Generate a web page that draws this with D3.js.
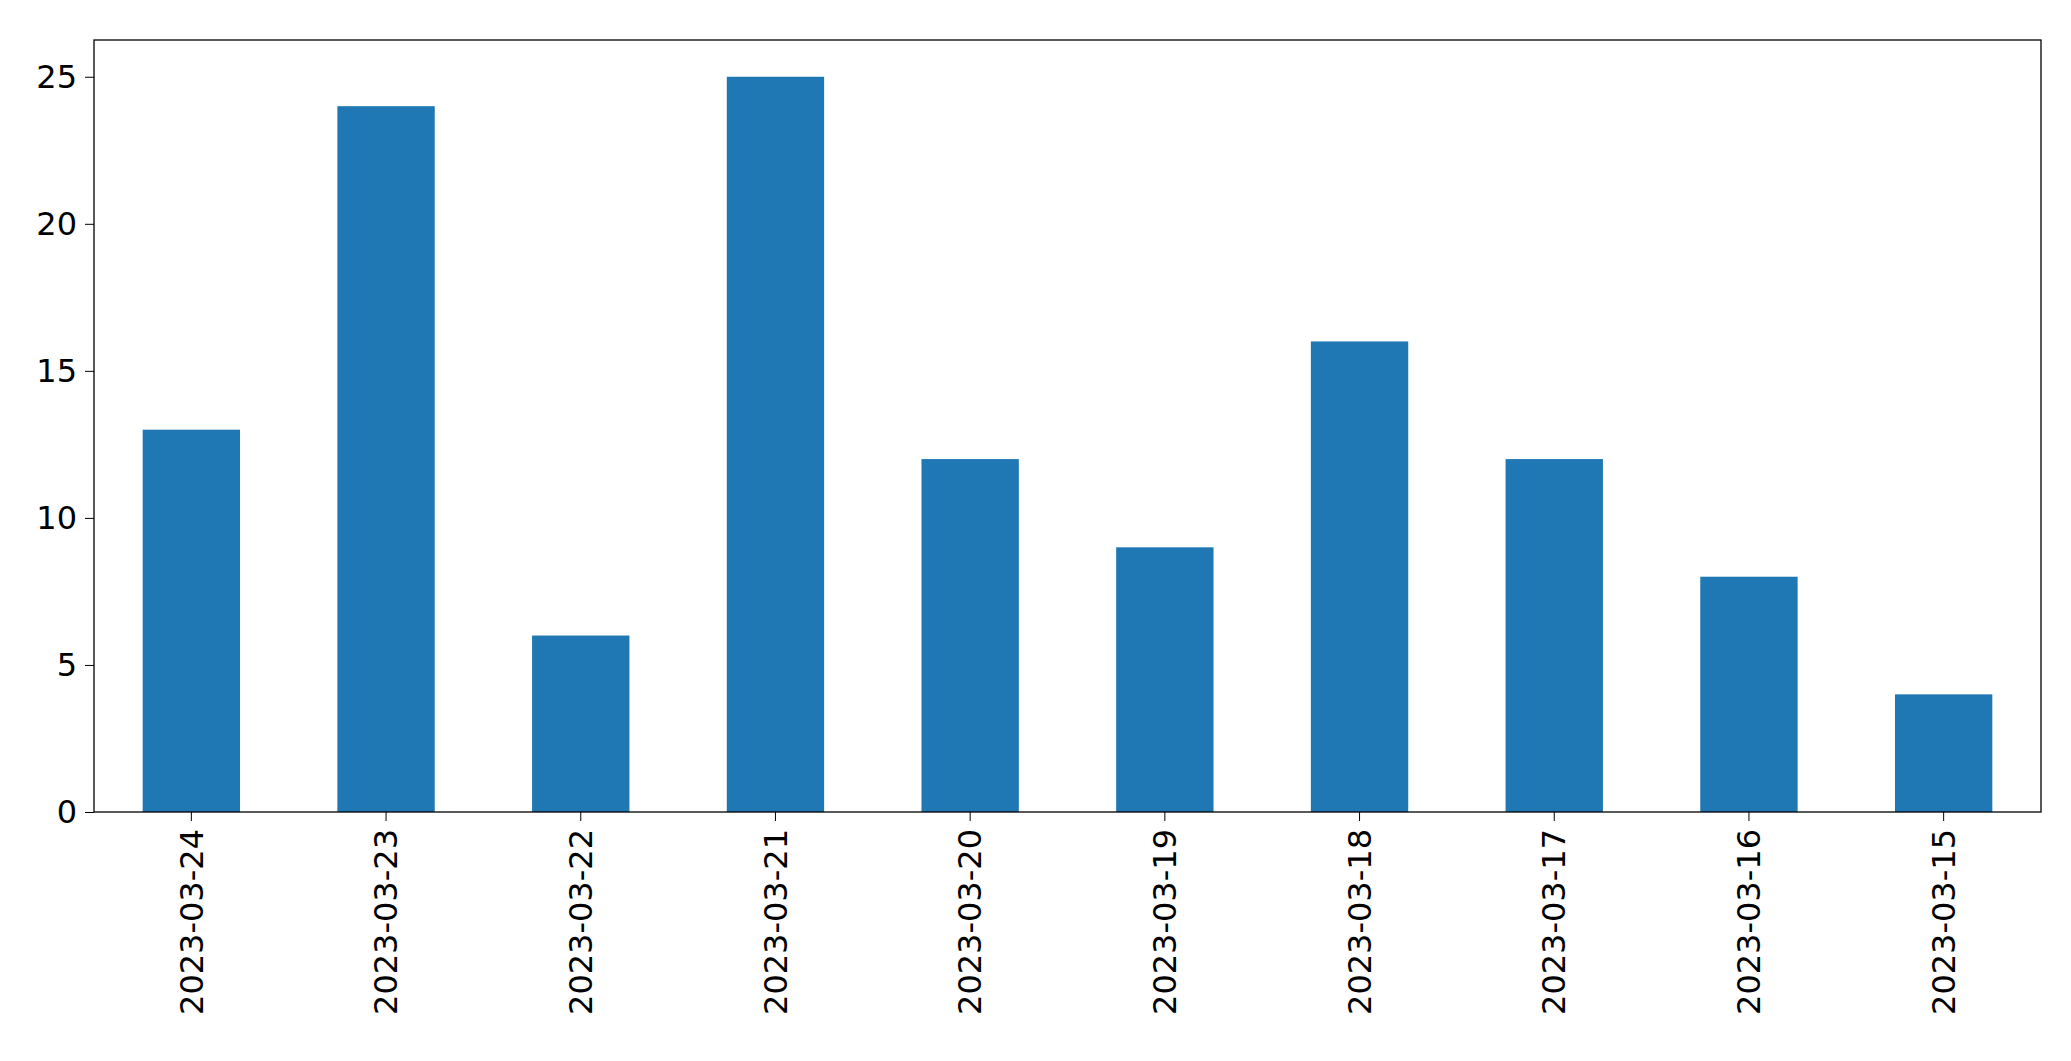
<!DOCTYPE html>
<html><head><meta charset="utf-8">
<script src="https://cdn.jsdelivr.net/npm/d3@7"></script>
<style>body{margin:0;background:#fff}text{font-family:"DejaVu Sans",sans-serif}</style>
</head><body>
<svg id="chart" width="2071" height="1061"></svg>
<script>
const dates = ["2023-03-24","2023-03-23","2023-03-22","2023-03-21","2023-03-20","2023-03-19","2023-03-18","2023-03-17","2023-03-16","2023-03-15"];
const counts = [13, 24, 6, 25, 12, 9, 16, 12, 8, 4];
const yTicks = [0, 5, 10, 15, 20, 25];

const svg = d3.select("#chart");
const margins = { top: 40, bottom: 249, left: 94, right: 30 };
const w = 2071 - margins.left - margins.right;
const h = 1061 - margins.top - margins.bottom;
const g = svg.append("g").attr("transform", "translate(" + margins.left + "," + margins.top + ")");

const x = d3.scaleBand().domain(dates).range([0, w]).paddingInner(0.5).paddingOuter(0.25);
const y = d3.scaleLinear().domain([0, 26.25]).range([h, 0]);

g.selectAll("rect.bar")
	.data(counts)
	.join("rect")
	.attr("class", "bar")
	.attr("x", (d, i) => x(dates[i]))
	.attr("y", (d) => y(d))
	.attr("width", x.bandwidth())
	.attr("height", (d) => h - y(d))
	.attr("fill", "#1f77b4");

const yAxis = g.append("g").call(d3.axisLeft(y).tickValues(yTicks).tickSize(9).tickPadding(8));
yAxis.selectAll("text").style("font-size", "32px").attr("fill", "#000");

const xAxis = g.append("g").attr("transform", "translate(0," + h + ")")
	.call(d3.axisBottom(x).tickSize(9).tickPadding(8));
xAxis.selectAll("text")
	.style("font-size", "32px").attr("fill", "#000")
	.attr("transform", "rotate(-90)")
	.attr("text-anchor", "end")
	.attr("x", -17).attr("y", 0).attr("dy", "0.35em");

g.selectAll(".domain").remove();
g.append("rect").attr("width", w).attr("height", h)
	.attr("fill", "none").attr("stroke", "#000").attr("stroke-width", 1.3);
</script>
</body></html>
